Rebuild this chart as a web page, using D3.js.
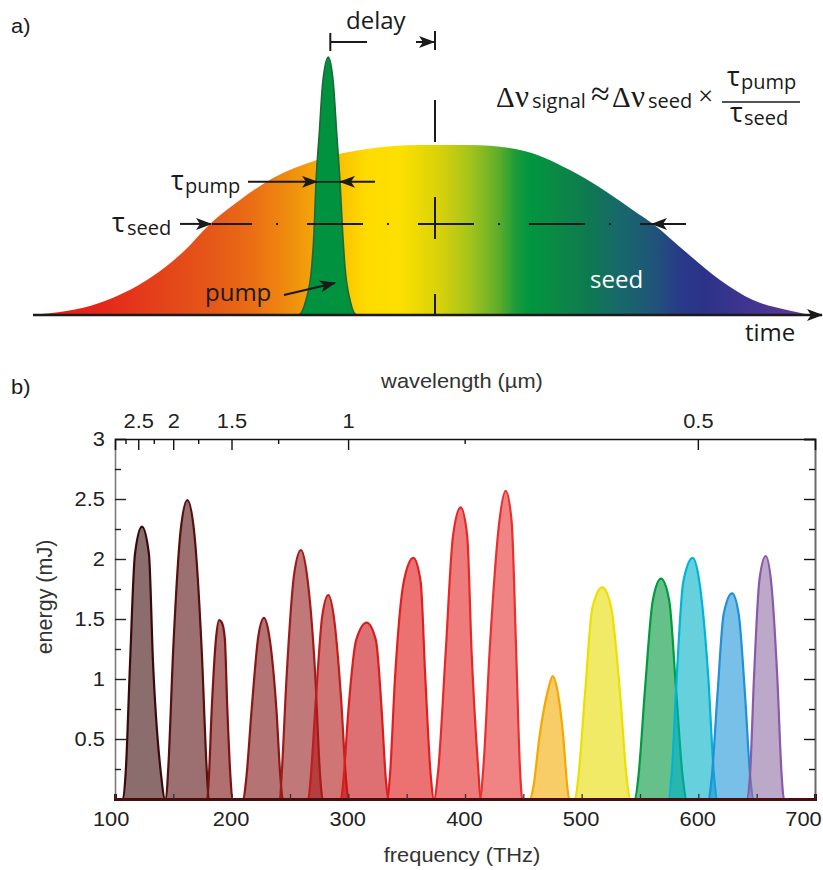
<!DOCTYPE html>
<html><head><meta charset="utf-8">
<script src="https://cdn.jsdelivr.net/npm/d3@7"></script>
<style>body{margin:0;background:#fff}svg{display:block}</style>
</head><body>
<svg id="chart" width="823" height="870"></svg>
<script>
// ---------------- data ----------------
// panel a) : seed and pump temporal profiles (time in arbitrary units, 0 = seed centre)
const seedTime = [-402,-335,-285,-252,-225,-195,-162,-118,-68,-15,35,85,135,168,202,218,252,285,318,352,375];
const seedAmp  = [0,0.047,0.143,0.244,0.353,0.446,0.531,0.601,0.643,0.659,0.659,0.64,0.562,0.486,0.395,0.353,0.24,0.136,0.058,0.019,0];
const pumpTime = [-142,-136.7,-129,-123.3,-121,-119,-115.7,-112.3,-106.7,-101.7,-98.3,-95,-92.3,-90,-85,-78.3,-73];
const pumpAmp  = [0,0,0.058,0.186,0.318,0.516,0.705,0.9,1.0,0.9,0.705,0.516,0.318,0.186,0.058,0,0];
const seedGradientTimes  = [-400,-335,-268,-218,-185,-152,-128,-85,-68,-35,5,35,65,80,95,120,152,185,218,245,268,318,352,375];
const seedGradientColors = ["#e31e1a","#e4271a","#e4451a","#e55a18","#ea6c14","#ef8810","#f29e0a","#fbcb00","#ffdb00","#fde000","#d8d10a","#a4c41c","#5aac2a","#1c9c38","#009640","#0a8a44","#0e7a50","#17686a","#1f5578","#283a88","#2b3388","#423592","#583593","#6a3b99"];

// panel b) : spectra, each as [frequency (THz), energy (mJ)]
const spectra = [
  [[104,0],[106.9,0],[109.2,0.227],[112.9,1.135],[117.1,2.04],[123.1,2.27],[129.1,2.04],[132.6,1.135],[139.2,0.227],[142.9,0],[146,0]],
  [[141,0],[143.7,0],[145.6,0.249],[149.9,1.245],[156.3,2.24],[162.0,2.49],[167.7,2.24],[174.3,1.245],[178.6,0.249],[180.3,0],[183,0]],
  [[177,0],[179.1,0],[180.3,0.149],[182.9,0.745],[186.6,1.34],[189.2,1.49],[191.6,1.47],[194.1,1.34],[196.3,0.745],[199.2,0.149],[200.5,0],[202,0]],
  [[208,0],[210.0,0],[212.3,0.151],[217.2,0.755],[222.9,1.36],[227.7,1.51],[232.2,1.36],[238.3,0.755],[242.0,0.151],[243.8,0],[246,0]],
  [[239,0],[241.4,0],[242.9,0.21],[247.2,1.04],[253.5,1.87],[259.4,2.075],[264.5,1.87],[271.6,1.04],[275.7,0.21],[278.0,0],[280,0]],
  [[263,0],[265.7,0],[267.7,0.17],[272.3,0.85],[277.7,1.53],[282.9,1.70],[287.4,1.53],[293.7,0.85],[298.0,0.17],[300.0,0],[302,0]],
  [[291,0],[293.7,0],[295.7,0.147],[300.0,0.735],[306.6,1.32],[315.7,1.47],[323.7,1.32],[328.6,0.735],[332.3,0.147],[334.3,0],[337,0]],
  [[331,0],[333.4,0],[335.7,0.2],[340.0,1.005],[347.5,1.81],[355.7,2.01],[362.0,1.81],[366.0,1.005],[370.6,0.2],[373.4,0],[376,0]],
  [[371,0],[373.4,0],[377.1,0.243],[383.4,1.215],[389.7,2.19],[396.3,2.43],[401.9,2.19],[405.7,1.215],[411.4,0.243],[413.4,0],[416,0]],
  [[410,0],[412.9,0],[415.7,0.257],[421.4,1.28],[429.4,2.31],[434.9,2.567],[440.0,2.31],[443.7,1.28],[447.1,0.257],[449.1,0],[451,0]],
  [[453,0],[455.7,0],[458.6,0.1],[463.7,0.51],[471.5,0.92],[475.2,1.025],[478.9,0.92],[484.3,0.51],[487.7,0.1],[489.4,0],[491,0]],
  [[492,0],[494.3,0],[497.1,0.176],[502.9,0.882],[509.1,1.59],[517.7,1.764],[525.4,1.59],[532.9,0.882],[538.6,0.176],[541.4,0],[543,0]],
  [[543,0],[545.7,0],[548.6,0.184],[554.3,0.918],[560.9,1.65],[568.0,1.836],[575.1,1.65],[580.9,0.918],[586.6,0.184],[589.9,0],[592,0]],
  [[572,0],[574.3,0],[577.1,0.2],[581.4,1.005],[587.1,1.81],[595.2,2.01],[600.9,1.81],[608.6,1.005],[613.4,0.2],[616.3,0],[618,0]],
  [[606,0],[608.6,0],[611.4,0.171],[616.3,0.857],[621.7,1.54],[628.9,1.714],[634.6,1.54],[640.1,0.857],[644.6,0.171],[647.4,0],[649,0]],
  [[639,0],[641.4,0],[644.3,0.2],[647.7,1.01],[652.3,1.82],[657.7,2.025],[662.3,1.82],[667.7,1.01],[671.4,0.2],[673.4,0],[675,0]]
];
const spectrumColors = ["#3d0b0b","#5a1010","#7b1111","#841616","#961e1e","#b01717","#c80f14","#e01414","#e42525","#e63232",
                        "#f3aa00","#e6dc00","#00963a","#00b1c5","#1e96d9","#8f6ea3"];
const spectrumStrokes = ["#3a0a0a","#551010","#7a1414","#8a1818","#a01c1c","#c01e1e","#d81e1e","#e02020","#e52828","#e83030",
                         "#f5a800","#ece000","#009a40","#00b4d8","#2090d8","#8a5aa8"];
const freqTicks = [100,200,300,400,500,600,700];
const freqMinor = [150,250,350,450,550,650];
const energyTicks = [0.5,1,1.5,2,2.5,3];
const energyMinor = [0.25,0.75,1.25,1.75,2.25,2.75];
const wavelengthTicks = [2.5,2,1.5,1,0.5];
const wavelengthMinor = [2.75,2.25,1.75,1.25,0.75];
const SPEED_OF_LIGHT = 299.792; // µm·THz

// ---------------- drawing ----------------
const svg = d3.select("#chart");
const SANS_A = "'Open Sans', sans-serif";
const SANS_B = "'Liberation Sans', Arial, sans-serif";
const SERIF = "'Liberation Serif', 'DejaVu Serif', serif";
const ink = "#1a1a1a";
const STRETCH = "scale(1.12,1)";

const defs = svg.append("defs");
defs.append("marker").attr("id","arr").attr("markerUnits","userSpaceOnUse")
  .attr("viewBox","0 0 16 12").attr("markerWidth",16).attr("markerHeight",12)
  .attr("refX",15).attr("refY",6).attr("orient","auto")
  .append("path").attr("d","M0,0 L16,6 L0,12 L4,6 Z").attr("fill",ink);

// ===== panel a =====
const tX = d3.scaleLinear().domain([-400,400]).range([35,835]);
const aY = d3.scaleLinear().domain([0,1]).range([315,57]);

const grad = defs.append("linearGradient").attr("id","seedGrad")
  .attr("gradientUnits","userSpaceOnUse").attr("x1",tX(-400)).attr("x2",tX(375)).attr("y1",0).attr("y2",0);
const g0 = tX(-400), g1 = tX(375);
seedGradientTimes.forEach((t,i)=>{
  grad.append("stop").attr("offset",((tX(t)-g0)/(g1-g0)).toFixed(4)).attr("stop-color",seedGradientColors[i]);
});

const seedData = seedTime.map((t,i)=>[t,seedAmp[i]]);
const pumpData = pumpTime.map((t,i)=>[t,pumpAmp[i]]);
const areaA = d3.area().x(d=>tX(d[0])).y0(aY(0)).y1(d=>aY(d[1])).curve(d3.curveMonotoneX);
const lineA = d3.line().x(d=>tX(d[0])).y(d=>aY(d[1])).curve(d3.curveMonotoneX);

svg.append("path").datum(seedData).attr("d",areaA).attr("fill","url(#seedGrad)");
svg.append("path").datum(pumpData).attr("d",areaA).attr("fill","#00923f");
svg.append("path").datum(pumpData).attr("d",lineA).attr("fill","none").attr("stroke","#1b6a3a").attr("stroke-width",1.6);

// time axis
svg.append("line").attr("x1",tX(-402)).attr("x2",tX(387)).attr("y1",aY(0)).attr("y2",aY(0))
  .attr("stroke",ink).attr("stroke-width",2.6).attr("marker-end","url(#arr)");

const ann = svg.append("g").attr("stroke",ink).attr("stroke-width",2).attr("fill","none");
ann.append("line").attr("x1",tX(0)).attr("x2",tX(0)).attr("y1",100).attr("y2",aY(0)).attr("stroke-dasharray","42 55");
const halfY = aY(seedAmp[4]);
ann.append("line").attr("x1",212).attr("x2",653).attr("y1",halfY).attr("y2",halfY)
  .attr("stroke-dasharray","56 24 2 29").attr("stroke-dashoffset",16);
ann.append("line").attr("x1",180).attr("x2",211).attr("y1",halfY).attr("y2",halfY).attr("marker-end","url(#arr)");
ann.append("line").attr("x1",686).attr("x2",652).attr("y1",halfY).attr("y2",halfY).attr("marker-end","url(#arr)");
const pY = aY(0.516);
ann.append("line").attr("x1",248).attr("x2",317).attr("y1",pY).attr("y2",pY).attr("marker-end","url(#arr)");
ann.append("line").attr("x1",316).attr("x2",341).attr("y1",pY).attr("y2",pY).attr("stroke-width",1.6);
ann.append("line").attr("x1",375).attr("x2",340).attr("y1",pY).attr("y2",pY).attr("marker-end","url(#arr)");
const pumpCx = tX(-106.7);
ann.append("line").attr("x1",pumpCx+2).attr("x2",pumpCx+2).attr("y1",33).attr("y2",51);
ann.append("line").attr("x1",pumpCx+2).attr("x2",367).attr("y1",42).attr("y2",42);
ann.append("line").attr("x1",416).attr("x2",434).attr("y1",42).attr("y2",42).attr("marker-end","url(#arr)");
ann.append("line").attr("x1",tX(0)).attr("x2",tX(0)).attr("y1",31).attr("y2",50);
ann.append("line").attr("x1",284).attr("x2",335).attr("y1",295).attr("y2",283).attr("marker-end","url(#arr)");

const T = (x,y,txt,size,fam,fill) => svg.append("text").attr("x",x).attr("y",y).text(txt)
   .attr("font-size",size).attr("font-family",fam).attr("fill",fill||ink);
// stretched sans text (panel labels / axis titles)
const TS = (x,y,txt,size,anchor,fill) => svg.append("text").attr("transform",`translate(${x},${y}) ${STRETCH}`)
   .attr("text-anchor",anchor||"start").text(txt).attr("font-size",size).attr("font-family",SANS_B).attr("fill",fill||ink);

TS(11,33,"a)",19.5);
T(346,29,"delay",24,SANS_A);
T(205,301,"pump",24,SANS_A);
T(590,288,"seed",24,SANS_A,"#ffffff");
T(745,341,"time",24,SANS_A);
T(171,190,"τ",27,SANS_A); T(185,193,"pump",20,SANS_A);
T(112,232,"τ",27,SANS_A); T(127,235,"seed",20,SANS_A);
// formula
T(496,107,"Δ",29,SERIF); T(515,107,"ν",31,SERIF); T(532,108,"signal",20,SANS_A);
T(591,105,"≈",34,SERIF);
T(612,107,"Δ",29,SERIF); T(631,107,"ν",31,SERIF); T(648,108,"seed",20,SANS_A);
T(698,105,"×",27,SERIF);
T(727,86,"τ",27,SANS_A); T(741,89,"pump",20,SANS_A);
svg.append("line").attr("x1",722).attr("x2",800).attr("y1",102).attr("y2",102).attr("stroke",ink).attr("stroke-width",1.6);
T(730,122,"τ",27,SANS_A); T(744,125,"seed",20,SANS_A);

// ===== panel b =====
const L=115, R=815, TOP=439, BOT=799;
const x = d3.scaleLinear().domain([100,700]).range([L,R]);
const y = d3.scaleLinear().domain([0,3]).range([BOT,TOP]);

defs.append("clipPath").attr("id","plotclip").append("rect")
  .attr("x",L).attr("y",TOP-5).attr("width",R-L).attr("height",BOT-TOP+5);

const areaB = d3.area().x(d=>x(d[0])).y0(y(0)).y1(d=>y(d[1])).curve(d3.curveMonotoneX);
const lineB = d3.line().x(d=>x(d[0])).y(d=>y(d[1])).curve(d3.curveMonotoneX);
const peaks = svg.append("g").attr("clip-path","url(#plotclip)");
spectra.forEach((pts,i)=>{
  peaks.append("path").datum(pts).attr("d",areaB).attr("fill",spectrumColors[i]).attr("fill-opacity",0.6);
  peaks.append("path").datum(pts).attr("d",lineB).attr("fill","none")
    .attr("stroke",spectrumStrokes[i]).attr("stroke-width",2.2).attr("stroke-linejoin","round");
});

const styleTickText = sel => sel.attr("font-family",SANS_B).attr("font-size",19.5).attr("fill","#222");

// left axis
const gl = svg.append("g").attr("transform",`translate(${L},0)`)
  .call(d3.axisLeft(y).tickValues(energyTicks).tickSize(-11).tickPadding(9).tickFormat(d3.format("")));
gl.select(".domain").attr("stroke","#7a7a7a").attr("stroke-width",1.6);
gl.selectAll(".tick line").attr("stroke","#222").attr("stroke-width",1.4);
gl.selectAll("text").call(styleTickText).attr("transform",STRETCH);
svg.append("g").attr("transform",`translate(${L},0)`)
  .call(d3.axisLeft(y).tickValues(energyMinor).tickSize(-6).tickFormat(""))
  .call(g=>{g.select(".domain").remove(); g.selectAll("line").attr("stroke","#222").attr("stroke-width",1.4);});

// right axis
const gr = svg.append("g").attr("transform",`translate(${R},0)`)
  .call(d3.axisRight(y).tickValues(energyTicks).tickSize(-11).tickFormat(""));
gr.select(".domain").attr("stroke","#6a6a6a").attr("stroke-width",2);
gr.selectAll("line").attr("stroke","#111").attr("stroke-width",1.4);
svg.append("g").attr("transform",`translate(${R},0)`)
  .call(d3.axisRight(y).tickValues(energyMinor).tickSize(-6).tickFormat(""))
  .call(g=>{g.select(".domain").remove(); g.selectAll("line").attr("stroke","#111").attr("stroke-width",1.4);});

// top axis: wavelength
const gt = svg.append("g").attr("transform",`translate(0,${TOP})`)
  .call(d3.axisTop(x).tickValues(wavelengthTicks.map(l=>SPEED_OF_LIGHT/l)).tickSize(-11).tickPadding(11)
        .tickFormat((f,i)=>String(wavelengthTicks[i])));
gt.select(".domain").attr("stroke","#111").attr("stroke-width",1.6);
gt.selectAll(".tick line").attr("stroke","#111").attr("stroke-width",1.4);
gt.selectAll("text").call(styleTickText).attr("transform",STRETCH);
svg.append("g").attr("transform",`translate(0,${TOP})`)
  .call(d3.axisTop(x).tickValues(wavelengthMinor.map(l=>SPEED_OF_LIGHT/l)).tickSize(-5).tickFormat(""))
  .call(g=>{g.select(".domain").remove(); g.selectAll("line").attr("stroke","#111").attr("stroke-width",1.4);});

// bottom axis
const gb = svg.append("g").attr("transform",`translate(0,${BOT})`)
  .call(d3.axisBottom(x).tickValues(freqTicks).tickSize(-5).tickPadding(13).tickFormat(d3.format("")));
gb.select(".domain").attr("stroke","#4a0c0c").attr("stroke-width",3);
gb.selectAll(".tick line").attr("stroke","#333").attr("stroke-width",1.3);
gb.selectAll("text").call(styleTickText).attr("transform",STRETCH)
  .attr("dx",(d,i,n)=> i===0 ? "-0.2em" : (i===n.length-1 ? "-0.55em" : "-0.05em"));
svg.append("g").attr("transform",`translate(0,${BOT})`)
  .call(d3.axisBottom(x).tickValues(freqMinor).tickSize(-5).tickFormat(""))
  .call(g=>{g.select(".domain").remove(); g.selectAll("line").attr("stroke","#333").attr("stroke-width",1.3);});

// axis titles
TS(11,394,"b)",19.5);
TS((L+R)/2-3,388,"wavelength (µm)",19.5,"middle","#333");
TS((L+R)/2-3,862,"frequency (THz)",19.5,"middle","#333");
svg.append("text").attr("transform",`translate(52,597) rotate(-90)`).attr("text-anchor","middle").text("energy (mJ)")
  .attr("font-family",SANS_B).attr("font-size",21.5).attr("fill","#333");
</script>
</body></html>
